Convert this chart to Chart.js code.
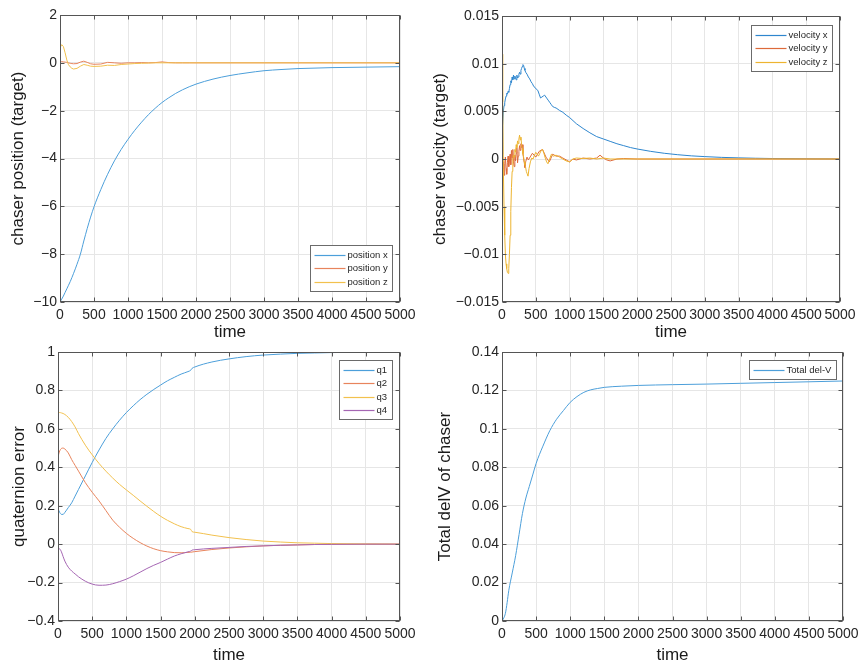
<!DOCTYPE html>
<html>
<head>
<meta charset="utf-8">
<script src="https://cdn.jsdelivr.net/npm/chart.js@4.4.1/dist/chart.umd.min.js"></script>
<style>
  body { margin: 0; background: #fff; }
  canvas { position: absolute; }
</style>
</head>
<body>
<canvas id="posChart" width="433" height="345" style="left:0;top:0"></canvas>
<canvas id="velChart" width="438" height="345" style="left:428px;top:0"></canvas>
<canvas id="quatChart" width="433" height="336" style="left:0;top:335px"></canvas>
<canvas id="delvChart" width="438" height="336" style="left:428px;top:335px"></canvas>
<script>
// shared x axis
const timeTicks = [0, 500, 1000, 1500, 2000, 2500, 3000, 3500, 4000, 4500, 5000];

// chaser position
const posTime = [0, 25, 50, 75, 100, 125, 150, 175, 200, 250, 300, 350, 400, 450, 500, 600, 700, 800, 900, 1000,
  1100, 1200, 1300, 1400, 1500, 1600, 1700, 1800, 1900, 2000, 2250, 2500, 2750, 3000, 3250, 3500, 3750, 4000, 4500, 5000];
const posX = [-10, -9.88, -9.75, -9.6, -9.45, -9.3, -9.15, -8.98, -8.8, -8.42, -8.0, -7.45, -6.93, -6.45, -6.02, -5.3, -4.66, -4.1, -3.62, -3.2,
  -2.82, -2.48, -2.17, -1.9, -1.66, -1.46, -1.28, -1.13, -1.0, -0.89, -0.68, -0.53, -0.42, -0.33, -0.28, -0.24, -0.22, -0.2, -0.18, -0.16];
const posY = [0.05, 0.05, 0.04, 0.03, 0.02, 0.0, -0.02, -0.03, -0.04, -0.03, 0.03, 0.07, 0.02, -0.04, -0.06, -0.05, 0.02, 0.0, -0.02, 0.0,
  0.0, 0.01, 0.0, 0.01, 0.04, 0.01, 0.0, 0, 0, 0, 0, 0, 0, 0, 0, 0, 0, 0, 0, 0];
const posZ = [0.63, 0.76, 0.68, 0.42, 0.12, -0.08, -0.17, -0.23, -0.26, -0.23, -0.14, -0.07, -0.1, -0.14, -0.15, -0.14, -0.1, -0.11, -0.07, -0.05,
  -0.03, -0.02, -0.01, 0, 0, 0, 0, 0, 0, 0, 0, 0, 0, 0, 0, 0, 0, 0, 0, 0];
const posTicks = [2, 0, -2, -4, -6, -8, -10];

// chaser velocity
const velXTime = [0, 10, 20, 30, 40, 50, 60, 70, 80, 90, 100, 110, 120, 130, 140, 150, 160, 170, 180, 190, 200, 210, 220, 230, 240,
  250, 260, 270, 280, 290, 300, 310, 320, 330, 340, 350, 370, 390, 410, 430, 450, 470, 490, 510, 530, 550, 570, 590, 610, 630,
  650, 670, 690, 710, 730, 750, 780, 800, 850, 900, 950, 1000, 1100, 1200, 1300, 1400, 1500, 1600, 1700, 1800, 1900, 2000,
  2200, 2400, 2600, 2800, 3000, 3250, 3500, 3750, 4000, 4500, 5000];
const velX = [0.0005, 0.0035, 0.005, 0.0056, 0.0059, 0.0063, 0.0066, 0.0069, 0.0068, 0.0071, 0.007, 0.0074, 0.0078, 0.0082, 0.008,
  0.0086, 0.0083, 0.0088, 0.0084, 0.0087, 0.0085, 0.0083, 0.0088, 0.0085, 0.0086, 0.0089, 0.0091, 0.0089, 0.0093, 0.0095, 0.0097,
  0.0099, 0.0098, 0.0095, 0.0093, 0.0091, 0.0089, 0.0086, 0.0084, 0.0081, 0.0079, 0.0076, 0.0075, 0.0073, 0.0072, 0.0068, 0.0064,
  0.0065, 0.0066, 0.0067, 0.0065, 0.0063, 0.0061, 0.0059, 0.0057, 0.0055, 0.0054, 0.00535, 0.0051, 0.0049, 0.0046, 0.00435,
  0.0037, 0.0032, 0.00275, 0.00235, 0.0021, 0.00185, 0.0016, 0.0014, 0.0012, 0.00105, 0.0008, 0.0006, 0.00045, 0.00033,
  0.00025, 0.00017, 0.00012, 0.00008, 0.00005, 0.00002, 0];
const velYTime = [0, 10, 20, 30, 40, 50, 60, 70, 80, 90, 100, 110, 120, 130, 140, 150, 160, 170, 180, 190, 200, 210, 220, 230, 240,
  250, 260, 270, 280, 290, 300, 310, 320, 330, 340, 350, 370, 390, 450, 500, 550, 600, 650, 700, 750, 800, 850, 900, 950, 1000,
  1050, 1100, 1200, 1300, 1400, 1450, 1500, 1550, 1600, 1700, 1800, 2000, 3000, 5000];
const velY = [0, -0.0012, -0.0003, -0.0017, -0.0005, 0.0002, -0.001, -0.0016, -0.0004, 0.0003, -0.0008, -0.0002, 0.0005, -0.0006,
  0.0009, 0.0001, 0.001, -0.0003, -0.0008, 0.0004, -0.0002, 0.0006, 0.0012, -0.0004, 0.0003, 0.0008, 0.0014, 0.0009, 0.0016,
  0.0012, 0.0015, 0.0006, 0, -0.0004, -0.0009, -0.0003, 0.0002, -0.0001, 0.0006, 0.0002, 0.0008, 0.001, 0.0002, -0.0003, 0.0005,
  0.0003, 0.0003, 0.0001, -0.0001, -0.0003, 0, -0.0001, 0.0001, 0, 0.0001, 0.0004, 0.0001, -0.0001, -0.0002, 0, 0.00005, 0, 0, 0];
const velZTime = [0, 10, 20, 30, 40, 50, 60, 70, 80, 90, 100, 110, 120, 130, 140, 150, 160, 170, 180, 190, 200, 210, 220, 230, 240,
  250, 260, 270, 280, 290, 300, 310, 320, 330, 340, 350, 360, 370, 385, 400, 420, 440, 460, 480, 500, 520, 540, 560, 580, 600,
  620, 640, 660, 680, 700, 730, 760, 800, 850, 900, 950, 1000, 1050, 1100, 1200, 1300, 1400, 1500, 1600, 2000, 3000, 5000];
const velZ = [0.011, 0.006, -0.001, -0.005, -0.008, -0.01, -0.011, -0.0115, -0.0119, -0.012, -0.0115, -0.01, -0.008, -0.0055,
  -0.003, -0.0013, 0, 0.0004, 0.0002, 0.001, 0.0007, 0.0015, 0.0012, 0.0019, 0.0016, 0.0021, 0.0025, 0.002, 0.0023, 0.0015,
  0.0011, 0.0005, 0.0002, -0.0003, -0.0006, -0.0009, -0.0013, -0.0015, -0.0018, -0.001, -0.0003, 0.0001, 0, 0.0004, 0.0007,
  0.0005, 0.0003, 0.0006, 0.0009, 0.001, 0.0006, 0.0001, -0.0003, -0.0005, -0.0001, 0.0005, 0.0003, 0.0004, 0.0002, 0,
  -0.0002, -0.0003, 0, 0.0001, 0.00005, 0.0001, 0, 0.0001, 0, 0, 0, 0];
const velTicks = [0.015, 0.01, 0.005, 0, -0.005, -0.01, -0.015];

// quaternion error
const quatTime = [0, 25, 50, 75, 100, 150, 200, 250, 300, 400, 500, 600, 700, 800, 900, 1000, 1100, 1200, 1300, 1400, 1500,
  1600, 1700, 1800, 1900, 1940, 1960, 2000, 2250, 2500, 2750, 3000, 3250, 3500, 3750, 4000, 4500, 5000];
const q1 = [0.185, 0.165, 0.155, 0.155, 0.165, 0.19, 0.215, 0.25, 0.285, 0.355, 0.425, 0.49, 0.55, 0.6, 0.645, 0.685, 0.72,
  0.752, 0.78, 0.805, 0.828, 0.85, 0.868, 0.885, 0.898, 0.905, 0.915, 0.922, 0.948, 0.964, 0.976, 0.984, 0.989, 0.993, 0.995,
  0.997, 0.999, 1.0];
const q2 = [0.455, 0.485, 0.498, 0.5, 0.495, 0.475, 0.44, 0.41, 0.38, 0.32, 0.27, 0.225, 0.175, 0.125, 0.088, 0.056, 0.03,
  0.008, -0.01, -0.024, -0.034, -0.04, -0.044, -0.045, -0.043, -0.042, -0.041, -0.039, -0.028, -0.02, -0.014, -0.009, -0.006,
  -0.004, -0.002, -0.001, 0, 0];
const q3 = [0.685, 0.685, 0.683, 0.68, 0.675, 0.66, 0.638, 0.61, 0.575, 0.515, 0.465, 0.42, 0.38, 0.344, 0.311, 0.282, 0.254,
  0.225, 0.197, 0.17, 0.145, 0.124, 0.106, 0.091, 0.081, 0.077, 0.065, 0.062, 0.047, 0.034, 0.024, 0.016, 0.011, 0.007, 0.005,
  0.003, 0.001, 0];
const q4 = [-0.024, -0.025, -0.04, -0.065, -0.088, -0.12, -0.14, -0.155, -0.17, -0.193, -0.208, -0.214, -0.213, -0.206, -0.195,
  -0.182, -0.165, -0.146, -0.127, -0.11, -0.095, -0.078, -0.062, -0.05, -0.04, -0.036, -0.031, -0.029, -0.022, -0.017, -0.012,
  -0.009, -0.006, -0.004, -0.002, -0.001, 0, 0];
const quatTicks = [1, 0.8, 0.6, 0.4, 0.2, 0, -0.2, -0.4];

// total delta-V
const delvTime = [0, 25, 50, 75, 100, 150, 200, 250, 300, 350, 400, 450, 500, 600, 700, 800, 900, 1000, 1100, 1200, 1300,
  1400, 1500, 1750, 2000, 2500, 3000, 3500, 4000, 4500, 5000];
const delv = [0, 0.0015, 0.004, 0.0095, 0.016, 0.025, 0.034, 0.045, 0.056, 0.064, 0.07, 0.076, 0.082, 0.091, 0.099, 0.105,
  0.1095, 0.1138, 0.1168, 0.119, 0.1203, 0.121, 0.1216, 0.1222, 0.1226, 0.123, 0.1233, 0.1237, 0.1241, 0.1245, 0.1249];
const delvTicks = [0.14, 0.12, 0.1, 0.08, 0.06, 0.04, 0.02, 0];

Chart.defaults.font.family = '"Liberation Sans", Arial, sans-serif';

function pts(t, v) {
    return t.map((x, i) => ({ x: x, y: v[i] }));
}

function series(label, t, v, color, smooth) {
    return {
        label: label,
        data: pts(t, v),
        borderColor: color,
        borderWidth: 1,
        pointRadius: 0,
        cubicInterpolationMode: smooth ? 'monotone' : 'default',
        tension: 0
    };
}

// box around the plot, inward tick marks and a MATLAB style legend
const framePlugin = {
    id: 'frame',
    afterDraw(chart, args, opts) {
        const { ctx, chartArea: a, scales } = chart;
        const L = Math.round(a.left) + 0.5, R = Math.round(a.right) - 0.5;
        const T = Math.round(a.top) + 0.5, B = Math.round(a.bottom) - 0.5;
        ctx.save();
        ctx.strokeStyle = '#555';
        ctx.lineWidth = 1;
        ctx.strokeRect(L, T, R - L, B - T);
        ctx.beginPath();
        scales.x.ticks.forEach(t => {
            const px = Math.round(scales.x.getPixelForValue(t.value)) + 0.5;
            ctx.moveTo(px, B); ctx.lineTo(px, B - 4);
            ctx.moveTo(px, T); ctx.lineTo(px, T + 4);
        });
        scales.y.ticks.forEach(t => {
            const py = Math.round(scales.y.getPixelForValue(t.value)) + 0.5;
            ctx.moveTo(L, py); ctx.lineTo(L + 4, py);
            ctx.moveTo(R, py); ctx.lineTo(R - 4, py);
        });
        ctx.stroke();

        // legend
        const items = chart.data.datasets;
        ctx.font = '9.5px "Liberation Sans", Arial, sans-serif';
        const textW = Math.max(...items.map(d => ctx.measureText(d.label).width));
        const rowH = 13.5;
        const w = Math.round(4 + 31 + 3 + textW + 4);
        const h = Math.round(items.length * rowH + 5);
        const bx = Math.round(a.right - opts.dx - w) + 0.5;
        const by = Math.round(opts.anchor === 'top' ? a.top + opts.dy : a.bottom - opts.dy - h) + 0.5;
        ctx.fillStyle = '#fff';
        ctx.fillRect(bx, by, w, h);
        ctx.strokeStyle = '#6b6b6b';
        ctx.strokeRect(bx, by, w, h);
        ctx.textBaseline = 'middle';
        items.forEach((d, i) => {
            const cy = Math.round(by + 2.5 + rowH * i + rowH / 2) + 0.5;
            ctx.strokeStyle = d.borderColor;
            ctx.lineWidth = 1.2;
            ctx.beginPath();
            ctx.moveTo(bx + 4, cy);
            ctx.lineTo(bx + 35, cy);
            ctx.stroke();
            ctx.fillStyle = '#262626';
            ctx.fillText(d.label, bx + 37, cy);
        });
        ctx.restore();
    }
};

function fmt(v) {
    return String(Number(v.toFixed(6))).replace('-', '\u2212');
}

function makePanel(id, box, yTicks, yTitle, datasets, legend) {
    datasets.forEach((d, i) => { d.order = datasets.length - i; });
    return new Chart(document.getElementById(id).getContext('2d'), {
        type: 'line',
        data: { datasets: datasets },
        plugins: [framePlugin],
        options: {
            responsive: false,
            animation: false,
            events: [],
            layout: { padding: { top: box.top, right: box.right, left: 0, bottom: 0 } },
            plugins: {
                legend: { display: false },
                tooltip: { enabled: false },
                frame: legend
            },
            scales: {
                x: {
                    type: 'linear',
                    min: 0,
                    max: 5000,
                    afterBuildTicks: s => { s.ticks = timeTicks.map(v => ({ value: v })); },
                    afterFit: s => { s.height = box.xHeight; },
                    ticks: { autoSkip: false, maxRotation: 0, padding: 5, color: '#262626', font: { size: 14 }, callback: v => String(v) },
                    grid: { color: '#e6e6e6', drawTicks: false },
                    border: { display: false },
                    title: { display: true, text: 'time', color: '#1a1a1a', font: { size: 17 }, padding: { top: 0, bottom: box.xTitlePad } }
                },
                y: {
                    type: 'linear',
                    min: Math.min(...yTicks),
                    max: Math.max(...yTicks),
                    afterBuildTicks: s => { s.ticks = yTicks.map(v => ({ value: v })); },
                    afterFit: s => { s.width = box.yWidth; },
                    ticks: { autoSkip: false, padding: 3, color: '#262626', font: { size: 14 }, callback: v => fmt(v) },
                    grid: { color: '#e6e6e6', drawTicks: false },
                    border: { display: false },
                    title: { display: true, text: yTitle, color: '#1a1a1a', font: { size: 17 }, padding: { top: box.yTitlePad, bottom: 0 } }
                }
            }
        }
    });
}

const blue = '#4c9fda', orange = '#e8845c', yellow = '#f2c14e', purple = '#a566b3';

makePanel('posChart', { top: 15, right: 33, yWidth: 60, xHeight: 43, xTitlePad: 2, yTitlePad: 8 }, posTicks,
    'chaser position (target)', [
        series('position x', posTime, posX, blue, true),
        series('position y', posTime, posY, orange, false),
        series('position z', posTime, posZ, yellow, false)
    ], { anchor: 'bottom', dx: 8, dy: 11 });

makePanel('velChart', { top: 16, right: 26, yWidth: 74, xHeight: 43, xTitlePad: 2, yTitlePad: 2 }, velTicks,
    'chaser velocity (target)', [
        series('velocity x', velXTime, velX, '#2e86ce', false),
        series('velocity y', velYTime, velY, '#dd6a3a', false),
        series('velocity z', velZTime, velZ, '#edb430', false)
    ], { anchor: 'top', dx: 8, dy: 9 });

makePanel('quatChart', { top: 17, right: 33, yWidth: 58, xHeight: 50, xTitlePad: 5, yTitlePad: 9 }, quatTicks,
    'quaternion error', [
        series('q1', quatTime, q1, blue, true),
        series('q2', quatTime, q2, orange, true),
        series('q3', quatTime, q3, yellow, true),
        series('q4', quatTime, q4, purple, true)
    ], { anchor: 'top', dx: 8, dy: 8 });

makePanel('delvChart', { top: 17, right: 23, yWidth: 74, xHeight: 50, xTitlePad: 5, yTitlePad: 7 }, delvTicks,
    'Total delV of chaser', [
        series('Total del-V', delvTime, delv, blue, true)
    ], { anchor: 'top', dx: 7, dy: 8 });
</script>
</body>
</html>
